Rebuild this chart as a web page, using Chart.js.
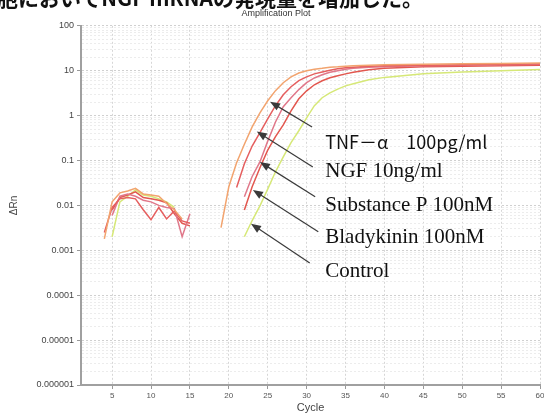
<!DOCTYPE html>
<html>
<head>
<meta charset="utf-8">
<script src="https://cdn.jsdelivr.net/npm/chart.js@4"></script>
<style>
html, body { margin: 0; padding: 0; background: #fff; overflow: hidden; }
#wrap { position: relative; width: 544px; height: 419px; overflow: hidden; }
#heading { position: absolute; left: -3px; top: -13px; font: bold 21px "Noto Sans CJK JP"; line-height: 21px; white-space: nowrap; color: #111; }
</style>
</head>
<body>
<div id="wrap">
  <canvas id="plot" width="544" height="419"></canvas>
  <div id="heading">胞においてNGF mRNAの発現量を増加した。</div>
</div>
<script>
// Cycles of the noisy baseline part and of the amplification part
const noiseCycles = [4, 5, 6, 7, 8, 9, 10, 11, 12, 13, 14, 15];
const riseCycles = [19, 20, 21, 22, 23, 24, 25, 26, 27, 28, 29, 30, 31, 32, 33, 34, 35, 36, 38, 40, 45, 50, 55, 60];

// Delta Rn
const tnfNoise     = [0.0018, 0.012, 0.019, 0.021, 0.024, 0.018, 0.017, 0.016, 0.011, 0.008, 0.005, null];
const ngfNoise     = [0.0025, 0.009, 0.014, 0.015, 0.014, 0.008, 0.0048, 0.009, 0.005, 0.0075, 0.0045, 0.004];
const subpNoise    = [null, 0.006, 0.016, 0.018, 0.016, 0.013, 0.012, 0.010, 0.009, 0.0085, 0.002, 0.0065];
const bradyNoise   = [null, 0.008, 0.015, 0.017, 0.020, 0.015, 0.014, 0.013, 0.0115, 0.0065, 0.004, 0.0035];
const controlNoise = [null, 0.002, 0.012, 0.016, 0.022, 0.017, 0.016, 0.014, 0.012, 0.009, null, null];

const tnfRise     = [0.0032, 0.026, 0.089, 0.23, 0.56, 1.15, 2.14, 3.6, 5.4, 7.3, 8.9, 10.0, 10.8, 11.3, 12.0, 12.2, 12.6, 12.9, 13.2, 13.5, 13.9, 14.2, 14.5, 14.9];
const ngfRise     = [null, null, 0.025, 0.085, 0.21, 0.42, 0.85, 1.66, 2.9, 4.4, 6.0, 7.3, 8.5, 9.4, 10.2, 11.0, 11.6, 12.0, 12.6, 12.9, 13.2, 13.5, 13.9, 14.2];
const subpRise    = [null, null, null, 0.0155, 0.044, 0.093, 0.27, 0.72, 1.58, 2.5, 3.8, 5.4, 6.9, 8.1, 9.2, 10.0, 10.8, 11.3, 12.0, 12.2, 12.9, 13.2, 13.5, 13.9];
const bradyRise   = [null, null, null, 0.0079, 0.026, 0.069, 0.17, 0.34, 0.62, 1.28, 2.37, 3.57, 4.86, 5.96, 6.95, 7.7, 8.5, 9.2, 10.5, 11.3, 12.2, 12.6, 12.9, 13.2];
const controlRise = [null, null, null, 0.0020, 0.0046, 0.0098, 0.023, 0.056, 0.12, 0.25, 0.46, 0.89, 1.66, 2.5, 3.2, 3.9, 4.6, 5.1, 6.3, 7.1, 8.5, 9.4, 10.0, 10.6];

const seriesNames = ['TNF-α 100pg/ml', 'NGF 10ng/ml', 'Substance P 100nM', 'Bladykinin 100nM', 'Control'];
const seriesColors = ['#f2a46f', '#e55f5f', '#e0788a', '#e2574f', '#d6e877'];

// Axis ticks
const xTickValues = [5, 10, 15, 20, 25, 30, 35, 40, 45, 50, 55, 60];
const yDecades = [0.000001, 0.00001, 0.0001, 0.001, 0.01, 0.1, 1, 10, 100];
const yTickLabels = ['0.000001', '0.00001', '0.0001', '0.001', '0.01', '0.1', '1', '10', '100'];

// Annotations: arrow tips, arrow tails and label anchors, in data units
const labelTexts = ['TNF－α　100pg/ml', 'NGF 10ng/ml', 'Substance P 100nM', 'Bladykinin 100nM', 'Control'];
const tipCycles  = [25.3, 23.6, 24.0, 23.1, 22.85];
const tipValues  = [2.03, 0.44, 0.093, 0.022, 0.0039];
const tailCycles = [30.7, 30.8, 31.1, 31.5, 30.4];
const tailValues = [0.56, 0.072, 0.0155, 0.0026, 0.00052];
const labelCycle = 32.4;
const labelValues = [0.26, 0.056, 0.0102, 0.0019, 0.00033];

function toPoints(cycles, values) {
    return cycles.map((c, i) => ({ x: c, y: values[i] }));
}

function buildSeries(noise, rise) {
    return toPoints(noiseCycles, noise)
        .concat([{ x: 16, y: null }])
        .concat(toPoints(riseCycles, rise));
}

const allSeries = [
    buildSeries(tnfNoise, tnfRise),
    buildSeries(ngfNoise, ngfRise),
    buildSeries(subpNoise, subpRise),
    buildSeries(bradyNoise, bradyRise),
    buildSeries(controlNoise, controlRise)
];

// minor log ticks 2..9 in every decade
const yMinor = [];
yDecades.slice(0, -1).forEach(d => {
    for (let m = 2; m <= 9; m++) yMinor.push(d * m);
});

function isDecade(v) {
    return yDecades.some(d => Math.abs(v / d - 1) < 1e-6);
}

const arrowPlugin = {
    id: 'arrows',
    afterDatasetsDraw(chart) {
        const { ctx, scales: { x, y } } = chart;
        ctx.save();
        labelTexts.forEach((text, i) => {
            const tx = x.getPixelForValue(tipCycles[i]);
            const ty = y.getPixelForValue(tipValues[i]);
            const sx = x.getPixelForValue(tailCycles[i]);
            const sy = y.getPixelForValue(tailValues[i]);
            const ang = Math.atan2(ty - sy, tx - sx);
            ctx.strokeStyle = '#3a3a3a';
            ctx.fillStyle = '#3a3a3a';
            ctx.lineWidth = 1.2;
            ctx.beginPath();
            ctx.moveTo(sx, sy);
            ctx.lineTo(tx - 6 * Math.cos(ang), ty - 6 * Math.sin(ang));
            ctx.stroke();
            ctx.beginPath();
            ctx.moveTo(tx, ty);
            ctx.lineTo(tx - 10 * Math.cos(ang) + 4 * Math.sin(ang), ty - 10 * Math.sin(ang) - 4 * Math.cos(ang));
            ctx.lineTo(tx - 10 * Math.cos(ang) - 4 * Math.sin(ang), ty - 10 * Math.sin(ang) + 4 * Math.cos(ang));
            ctx.closePath();
            ctx.fill();

            ctx.fillStyle = '#111';
            ctx.textBaseline = 'middle';
            ctx.font = i === 0 ? '18px "Noto Sans CJK JP"' : '21px "Liberation Serif"';
            ctx.fillText(text, x.getPixelForValue(labelCycle), y.getPixelForValue(labelValues[i]));
        });
        ctx.restore();
    }
};

document.addEventListener('DOMContentLoaded', function() {
    new Chart(document.getElementById('plot'), {
        type: 'line',
        data: {
            datasets: allSeries.map((pts, i) => ({
                label: seriesNames[i],
                data: pts,
                borderColor: seriesColors[i],
                borderWidth: 1.5,
                pointRadius: 0,
                tension: 0,
                spanGaps: false,
                fill: false
            }))
        },
        options: {
            responsive: false,
            animation: false,
            devicePixelRatio: 1,
            layout: { padding: { left: 8, right: 0, top: 0, bottom: 4 } },
            plugins: {
                legend: { display: false },
                tooltip: { enabled: false },
                title: {
                    display: true,
                    text: 'Amplification Plot',
                    color: '#333',
                    font: { family: 'Liberation Sans', size: 9, weight: 'normal' },
                    padding: { top: 8, bottom: 7 }
                }
            },
            scales: {
                x: {
                    type: 'linear',
                    min: 1,
                    max: 60,
                    afterBuildTicks: axis => { axis.ticks = xTickValues.map(v => ({ value: v })); },
                    afterFit: axis => { axis.height = 30; axis.paddingRight = 4; },
                    ticks: { color: '#555', font: { family: 'Liberation Sans', size: 8 }, padding: 2, maxRotation: 0, autoSkip: false },
                    grid: { color: '#d6d6d6', tickColor: '#999', tickLength: 4 },
                    border: { color: '#a0a0a0', width: 2, dash: [2, 2] },
                    title: { display: true, text: 'Cycle', color: '#444', font: { family: 'Liberation Sans', size: 11 }, padding: { top: 1, bottom: 0 } }
                },
                y: {
                    type: 'logarithmic',
                    min: 0.000001,
                    max: 100,
                    afterBuildTicks: axis => {
                        axis.ticks = yDecades.concat(yMinor).sort((a, b) => a - b).map(v => ({ value: v }));
                    },
                    afterFit: axis => { axis.width = 73; },
                    ticks: {
                        color: '#444',
                        font: { family: 'Liberation Sans', size: 9 },
                        padding: 3,
                        autoSkip: false,
                        callback: v => {
                            const k = yDecades.findIndex(d => Math.abs(v / d - 1) < 1e-6);
                            return k >= 0 ? yTickLabels[k] : '';
                        }
                    },
                    grid: {
                        color: ctx => isDecade(ctx.tick.value) ? '#d0d0d0' : '#ececec',
                        tickColor: ctx => isDecade(ctx.tick.value) ? '#999' : 'rgba(0,0,0,0)',
                        tickLength: 4
                    },
                    border: { color: '#a0a0a0', width: 2, dash: [2, 2] },
                    title: { display: true, text: 'ΔRn', color: '#444', font: { family: 'Liberation Sans', size: 10 }, padding: { top: 0, bottom: 4 } }
                }
            }
        },
        plugins: [arrowPlugin]
    });
});
</script>
</body>
</html>
